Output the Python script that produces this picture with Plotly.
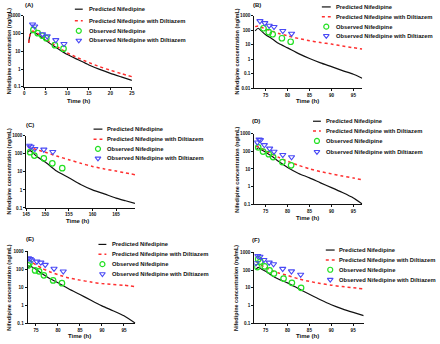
import plotly.graph_objects as go

W, H = 440, 344

# ---------------- data ----------------
# Panel A
tA_pred = [1, 1.3, 1.6, 2, 2.5, 3, 4, 5, 6, 8, 10, 12.5, 15, 17.5, 20, 22.5, 25]
A_nif = [30, 80, 115, 125, 110, 92, 62, 40, 27, 13, 6.5, 3.3, 1.7, 0.95, 0.57, 0.36, 0.23]
A_dil = [30, 85, 125, 140, 125, 105, 72, 48, 33, 16, 8, 4.2, 2.3, 1.35, 0.85, 0.55, 0.37]
tA_obs_n = [2.1, 3.1, 4.2, 5.1, 7.1, 9.1]
A_obs_n = [160, 105, 75, 55, 22, 14]
tA_obs_d = [1.9, 2.4, 4.2, 5.3, 7.3, 9.2]
A_obs_d = [330, 255, 92, 70, 43, 26]

# Panel B
tB_pred = [72.6, 73.3, 74, 75, 76.5, 78, 80, 82.5, 85, 87.5, 90, 92.5, 95, 97]
B_nif = [90, 137, 90, 48, 25, 12, 6, 2.4, 1.1, 0.55, 0.3, 0.16, 0.09, 0.048]
B_dil = [178, 200, 160, 124, 85, 60, 41, 27, 19, 14, 11, 8, 6.2, 5]
tB_obs_n = [74.5, 75.7, 76.6, 78.7, 80.7]
B_obs_n = [137, 73, 53, 28, 16]
tB_obs_d = [73.7, 74.8, 75.8, 76.9, 78.9, 80.9]
B_obs_d = [435, 316, 210, 170, 90, 59]

# Panel C
tC_pred = [146.3, 146.8, 148.2, 150, 152.4, 155, 157.5, 160, 162.5, 165, 167, 169]
C_nif = [123, 150, 71, 35, 11, 4.7, 2.0, 1.0, 0.6, 0.35, 0.25, 0.18]
C_dil = [250, 230, 170, 123, 75, 47, 30, 20, 14.5, 11, 8.7, 7]
tC_obs_n = [146.8, 147.7, 149.7, 151.5, 153.6]
C_obs_n = [123, 80, 56, 29.6, 16]
tC_obs_d = [146.6, 147.0, 147.8, 149.7, 151.6]
C_obs_d = [285, 250, 187, 172, 128]

# Panel D
tD_pred = [72.8, 73.3, 74, 75, 76.5, 78, 80, 82.5, 85, 87.5, 90, 92.5, 95, 97]
D_nif = [120, 160, 125, 89, 50, 26, 12, 5.5, 3.1, 1.6, 0.86, 0.45, 0.22, 0.1]
D_dil = [186, 190, 150, 107, 70, 45, 27, 16, 10, 7, 5.2, 3.9, 3, 2.4]
tD_obs_n = [73.3, 74.4, 75.7, 76.7, 78.8, 80.8]
D_obs_n = [170, 97, 69, 47, 24.5, 16]
tD_obs_d = [73.1, 73.5, 73.8, 74.7, 75.9, 76.9, 78.9, 80.9]
D_obs_d = [326, 480, 440, 230, 145, 97, 63, 47]

# Panel E
tE_pred = [73.2, 73.6, 74.2, 75, 76.5, 78, 80, 82.5, 85, 87.5, 90, 92.5, 95, 97.6]
E_nif = [120, 150, 130, 100, 55, 32, 18, 8, 4, 1.9, 0.93, 0.5, 0.26, 0.1]
E_dil = [340, 300, 240, 178, 110, 75, 50, 33, 25, 19.5, 16, 14.3, 13, 11]
tE_obs_n = [73.2, 73.5, 74.8, 75.7, 76.8, 78.9, 80.9]
E_obs_n = [164, 220, 87, 77, 46, 24, 17]
tE_obs_d = [73.3, 73.7, 74.0, 75.2, 76.1, 77.1, 79.1, 81.2]
E_obs_d = [415, 380, 320, 270, 240, 178, 108, 77]

# Panel F
tF_pred = [72.8, 73.3, 74, 75, 76.5, 78, 80, 82.5, 85, 87.5, 90, 92.5, 95, 97.4]
F_nif = [110, 140, 115, 85, 48, 30, 19, 9, 4.3, 2.1, 1.1, 0.65, 0.41, 0.27]
F_dil = [300, 260, 190, 140, 90, 68, 50, 32, 23, 17.5, 14, 11.7, 10, 8.7]
tF_obs_n = [73.1, 73.3, 73.8, 74.8, 75.9, 76.9, 79.1, 81.0, 83.1]
F_obs_n = [147, 410, 300, 160, 95, 63, 33, 19, 10]
tF_obs_d = [72.8, 73.2, 73.7, 74.6, 75.8, 76.8, 78.9, 80.9, 83.0]
F_obs_d = [245, 630, 575, 375, 265, 215, 118, 85, 55]

# tick labels
x_ticks_A = [0, 5, 10, 15, 20, 25]
x_ticks_75 = [75, 80, 85, 90, 95]
x_ticks_C = [146, 150, 155, 160, 165]
x_ticktext_C = ["145", "150", "155", "160", "165"]
y_ticks_4 = [0.1, 1, 10, 100, 1000]
y_ticktext_4 = ["0.1", "1", "10", "100", "1000"]
y_ticks_5 = [0.01, 0.1, 1, 10, 100, 1000]
y_ticktext_5 = ["0.01", "0.1", "1", "10", "100", "1000"]

legend_names = ["Predicted Nifedipine", "Predicted Nifedipine with Diltiazem",
                "Observed Nifedipine", "Observed Nifedipine with Diltiazem"]
panel_labels = ["(A)", "(B)", "(C)", "(D)", "(E)", "(F)"]

# ---------------- styling / layout ----------------
BLACK = "#111111"
RED = "#FF3030"
GREEN = "#22E022"
BLUE = "#4A4AF5"
FONT = "Liberation Sans, Arial, sans-serif"

panels = [
    dict(box=(20.7, 130, 14, 86), xr=[0, 25], yr=[-1, 3],
         xt=x_ticks_A, xtt=None, yt=y_ticks_4, ytt=y_ticktext_4,
         data=(tA_pred, A_nif, A_dil, tA_obs_n, A_obs_n, tA_obs_d, A_obs_d),
         leg=(72, 80, 85, [7.3, 19, 29.3, 39]), lab=(25, 3), xtit=(76, 100), ytit=(5, 50)),
    dict(box=(254.3, 364, 14, 87.3), xr=[72.4, 97], yr=[-2, 3],
         xt=x_ticks_75, xtt=None, yt=y_ticks_5, ytt=y_ticktext_5,
         data=(tB_pred, B_nif, B_dil, tB_obs_n, B_obs_n, tB_obs_d, B_obs_d),
         leg=(323, 332, 336, [5, 15, 25, 34.3]), lab=(257, 3), xtit=(308, 100.7), ytit=(237, 50)),
    dict(box=(22.7, 133.1, 135.7, 209), xr=[146, 169], yr=[-1, 3],
         xt=x_ticks_C, xtt=x_ticktext_C, yt=y_ticks_4, ytt=y_ticktext_4,
         data=(tC_pred, C_nif, C_dil, tC_obs_n, C_obs_n, tC_obs_d, C_obs_d),
         leg=(91, 100, 104, [129, 139.3, 149, 158.7]), lab=(26, 125), xtit=(75, 222.3), ytit=(5, 172)),
    dict(box=(254.3, 364, 133.7, 205), xr=[72.4, 97], yr=[-1, 3],
         xt=x_ticks_75, xtt=None, yt=y_ticks_4, ytt=y_ticktext_4,
         data=(tD_pred, D_nif, D_dil, tD_obs_n, D_obs_n, tD_obs_d, D_obs_d),
         leg=(314, 322, 326, [121, 131, 141, 152]), lab=(256, 121), xtit=(308, 219), ytit=(236, 170)),
    dict(box=(24, 133.5, 253, 326), xr=[73.1, 97.6], yr=[-1, 3],
         xt=x_ticks_75, xtt=None, yt=y_ticks_4, ytt=y_ticktext_4,
         data=(tE_pred, E_nif, E_dil, tE_obs_n, E_obs_n, tE_obs_d, E_obs_d),
         leg=(96, 104, 109, [246, 256, 266, 276]), lab=(26, 241), xtit=(77, 339), ytit=(5, 290)),
    dict(box=(254.3, 365.5, 254, 326), xr=[72.4, 97.4], yr=[-1, 3],
         xt=x_ticks_75, xtt=None, yt=y_ticks_4, ytt=y_ticktext_4,
         data=(tF_pred, F_nif, F_dil, tF_obs_n, F_obs_n, tF_obs_d, F_obs_d),
         leg=(327, 336, 339.5, [251.7, 261.7, 271.7, 281.7]), lab=(256, 241.5), xtit=(308, 339), ytit=(236, 290)),
]

fig = go.Figure()
layout = dict(width=W, height=H, margin=dict(l=0, r=0, t=0, b=0, pad=0),
              paper_bgcolor="white", plot_bgcolor="rgba(0,0,0,0)", showlegend=False,
              font=dict(family=FONT, color="#111111"))
annotations = []

axis_common = dict(showline=True, linecolor="#111111", linewidth=1, mirror=False,
                   showgrid=False, zeroline=False, ticks="outside", ticklen=2,
                   tickwidth=1, tickcolor="#111111",
                   tickfont=dict(size=4.6, family=FONT, color="#111111", weight="bold"))

for i, p in enumerate(panels):
    n = i + 1
    xn = "x" if n == 1 else f"x{n}"
    yn = "y" if n == 1 else f"y{n}"
    x0, x1, yt, yb = p["box"]
    xa = dict(axis_common, domain=[x0 / W, x1 / W], range=p["xr"], anchor=yn,
              tickvals=p["xt"])
    if p["xtt"]:
        xa["ticktext"] = p["xtt"]
    ya = dict(axis_common, domain=[1 - yb / H, 1 - yt / H], type="log", range=p["yr"],
              anchor=xn, tickvals=p["yt"], ticktext=p["ytt"])
    layout["xaxis" if n == 1 else f"xaxis{n}"] = xa
    layout["yaxis" if n == 1 else f"yaxis{n}"] = ya

    tp, pn, pd_, ton, on, tod, od = p["data"]
    fig.add_trace(go.Scatter(x=tp, y=pn, mode="lines", xaxis=xn, yaxis=yn,
                             line=dict(color=BLACK, width=1.2, shape="spline", smoothing=0.6)))
    fig.add_trace(go.Scatter(x=tp, y=pd_, mode="lines", xaxis=xn, yaxis=yn,
                             line=dict(color=RED, width=1.5, dash="dot", shape="spline", smoothing=0.6)))
    fig.add_trace(go.Scatter(x=ton, y=on, mode="markers", xaxis=xn, yaxis=yn,
                             marker=dict(symbol="circle-open", size=5.5, color=GREEN,
                                         line=dict(width=1.2, color=GREEN))))
    fig.add_trace(go.Scatter(x=tod, y=od, mode="markers", xaxis=xn, yaxis=yn,
                             marker=dict(symbol="triangle-down-open", size=5.5, color=BLUE,
                                         line=dict(width=1.1, color=BLUE))))

    lx, ly = p["lab"]
    annotations.append(dict(x=lx / W, y=1 - ly / H, xref="paper", yref="paper",
                            text="<b>" + panel_labels[i] + "</b>", showarrow=False,
                            font=dict(size=6, family=FONT), xanchor="center", yanchor="middle",
                            borderpad=0))
    tx, ty = p["xtit"]
    annotations.append(dict(x=tx / W, y=1 - ty / H, xref="paper", yref="paper",
                            text="<b>Time (h)</b>", showarrow=False,
                            font=dict(size=6, family=FONT), xanchor="center", yanchor="middle",
                            borderpad=0))
    vx, vy = p["ytit"]
    annotations.append(dict(x=vx / W, y=1 - vy / H, xref="paper", yref="paper",
                            text="<b>Nifedipine concentration (ng/mL)</b>", showarrow=False,
                            textangle=-90, font=dict(size=5.5, family=FONT),
                            xanchor="center", yanchor="middle", borderpad=0))

# legend overlay axis in pixel coordinates
layout["xaxis7"] = dict(domain=[0, 1], range=[0, W], visible=False, anchor="y7", fixedrange=True)
layout["yaxis7"] = dict(domain=[0, 1], range=[H, 0], visible=False, anchor="x7", fixedrange=True)

for i, p in enumerate(panels):
    lx0, lx1, ltx, rows = p["leg"]
    cx = (lx0 + lx1) / 2
    fig.add_trace(go.Scatter(x=[lx0, lx1], y=[rows[0], rows[0]], mode="lines", xaxis="x7", yaxis="y7",
                             line=dict(color=BLACK, width=1.2), hoverinfo="skip"))
    fig.add_trace(go.Scatter(x=[lx0, lx1], y=[rows[1], rows[1]], mode="lines", xaxis="x7", yaxis="y7",
                             line=dict(color=RED, width=1.5, dash="dot"), hoverinfo="skip"))
    fig.add_trace(go.Scatter(x=[cx], y=[rows[2]], mode="markers", xaxis="x7", yaxis="y7",
                             marker=dict(symbol="circle-open", size=5, color=GREEN,
                                         line=dict(width=1.2, color=GREEN)), hoverinfo="skip"))
    fig.add_trace(go.Scatter(x=[cx], y=[rows[3]], mode="markers", xaxis="x7", yaxis="y7",
                             marker=dict(symbol="triangle-down-open", size=5, color=BLUE,
                                         line=dict(width=1.1, color=BLUE)), hoverinfo="skip"))
    for name, ry in zip(legend_names, rows):
        annotations.append(dict(x=ltx, y=ry, xref="x7", yref="y7", text="<b>" + name + "</b>",
                                showarrow=False, xanchor="left", yanchor="middle", borderpad=0,
                                font=dict(size=5.8, family=FONT)))

layout["annotations"] = annotations
fig.update_layout(**layout)
fig.write_html("out.html", config={"displayModeBar": False},
               post_script="document.body.style.margin='0px';document.body.style.overflow='hidden';")
